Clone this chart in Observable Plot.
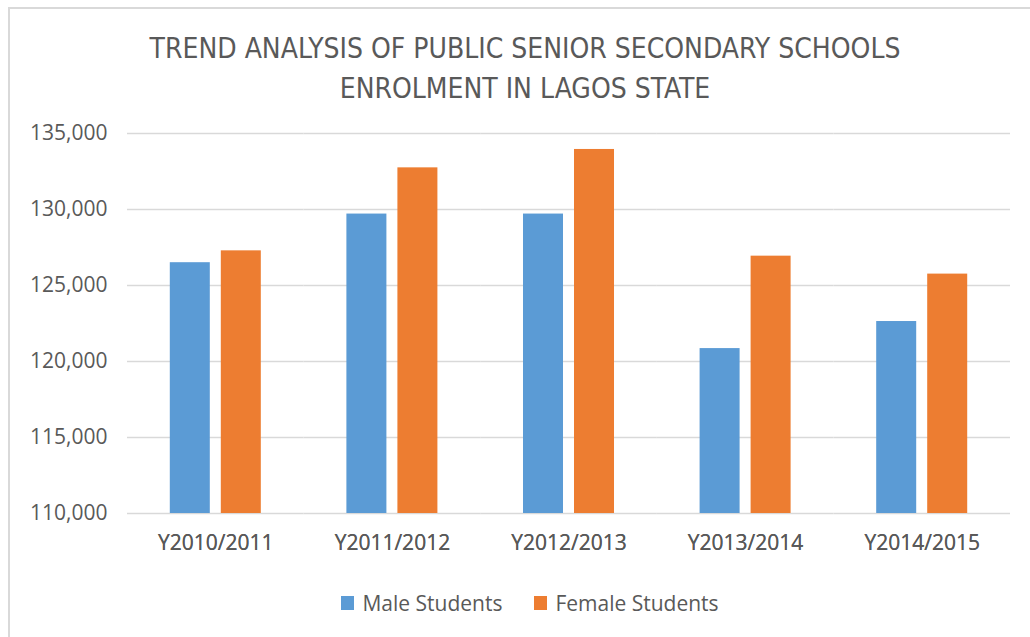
<!DOCTYPE html>
<html>
<head>
<meta charset="utf-8">
<script src="https://cdn.jsdelivr.net/npm/d3@7"></script>
<script src="https://cdn.jsdelivr.net/npm/@observablehq/plot@0.6"></script>
<style>
  html, body { margin: 0; padding: 0; background: #fff; }
  #frame {
    position: absolute; left: 8px; top: 7px; width: 1022px; height: 630px;
    border-left: 2px solid #d9d9d9; border-top: 2px solid #d9d9d9;
    box-sizing: border-box;
  }
  #wrap { position: absolute; left: 0; top: 0; width: 1030px; height: 637px; }
  #title {
    height: 113px; box-sizing: border-box; padding-top: 29px;
    text-align: center; color: #595959;
    font-family: "Liberation Sans Narrow", "DejaVu Sans Condensed", "Open Sans", sans-serif;
    font-size: 28px; line-height: 40px; padding-left: 20px;
  }
  #legend {
    position: absolute; top: 588px; left: 0; width: 1030px; text-align: center;
    font-family: "Open Sans", sans-serif; font-size: 21px; color: #595959;
    padding-left: 30px; box-sizing: border-box;
  }
  .item { display: inline-flex; align-items: center; margin: 0 16px; }
  .sw { width: 13px; height: 14px; display: inline-block; margin-right: 8px; }
</style>
</head>
<body>
<div id="frame"></div>
<div id="wrap">
  <div id="title">TREND ANALYSIS OF PUBLIC SENIOR SECONDARY SCHOOLS<br>ENROLMENT IN LAGOS STATE</div>
  <div id="chart"></div>
  <div id="legend"></div>
</div>
<script>
const years = ["Y2010/2011", "Y2011/2012", "Y2012/2013", "Y2013/2014", "Y2014/2015"];
const series = ["Male Students", "Female Students"];
const male = [126500, 129700, 129700, 120850, 122630];
const female = [127280, 132740, 133950, 126930, 125750];
const yTicks = [110000, 115000, 120000, 125000, 130000, 135000];
const colors = ["#5b9bd5", "#ed7d31"];

const data = [];
years.forEach((y, i) => {
  data.push({year: y, series: series[0], value: male[i]});
  data.push({year: y, series: series[1], value: female[i]});
});
const yMin = d3.min(yTicks), yMax = d3.max(yTicks);

const plot = Plot.plot({
  width: 1030,
  height: 460,
  marginTop: 20,
  marginBottom: 60,
  marginLeft: 127,
  marginRight: 20,
  style: {fontFamily: "'Open Sans', sans-serif", fontSize: "21px", color: "#595959", background: "transparent"},
  fx: {domain: years, padding: 0, label: null, axis: "bottom", tickSize: 0, tickPadding: 22, round: false},
  x: {domain: series, paddingInner: 0.2157, paddingOuter: 0.839, axis: null, round: false},
  y: {domain: [yMin, yMax], ticks: yTicks, tickFormat: d3.format(","), label: null, tickSize: 0, tickPadding: 20},
  color: {domain: series, range: colors},
  marks: [
    Plot.gridY(yTicks, {stroke: "#d9d9d9", strokeOpacity: 1, strokeWidth: 1.5}),
    Plot.barY(data, {fx: "year", x: "series", y1: yMin, y2: "value", fill: "series"}),
    Plot.axisY(yTicks, {tickFormat: d3.format(","), tickSize: 0, tickPadding: 20, fill: "#595959", fontSize: 21, label: null}),
    Plot.axisFx({tickSize: 0, tickPadding: 22, fill: "#595959", fontSize: 21, label: null, anchor: "bottom"})
  ]
});
document.getElementById("chart").appendChild(plot);

const legend = document.getElementById("legend");
series.forEach((s, i) => {
  const it = document.createElement("span");
  it.className = "item";
  const sw = document.createElement("span");
  sw.className = "sw";
  sw.style.background = colors[i];
  it.appendChild(sw);
  it.appendChild(document.createTextNode(s));
  legend.appendChild(it);
});
</script>
</body>
</html>
